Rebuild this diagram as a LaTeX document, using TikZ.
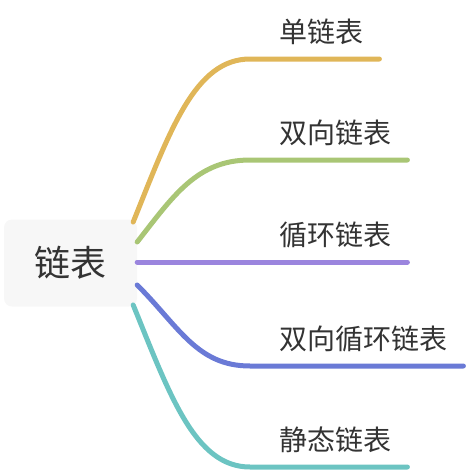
\documentclass[tikz,border=0pt]{standalone}
\usepackage{fontspec}
\newfontfamily\cjk{Noto Sans CJK SC}
\usepackage{tikz}
\usetikzlibrary{calc}
\definecolor{ink}{HTML}{333333}
\definecolor{rootbg}{HTML}{F7F7F7}
\definecolor{yel}{HTML}{E0B658}
\definecolor{grn}{HTML}{A9C675}
\definecolor{pur}{HTML}{9B85DE}
\definecolor{blu}{HTML}{6A7AD6}
\definecolor{tea}{HTML}{6CC4C2}
\tikzset{
  root/.style={fill=rootbg, rounded corners=8pt, minimum width=133pt, minimum height=87pt, inner sep=0pt, text=ink, font=\cjk\fontsize{36}{40}\selectfont},
  leaf/.style={anchor=west, inner xsep=16pt, inner ysep=0pt, text=ink, font=\cjk\fontsize{28}{32}\selectfont},
  arm/.style={line width=5pt, line cap=round},
}
\begin{document}
\begin{tikzpicture}[x=1pt,y=-1pt]
  \useasboundingbox (0,0) rectangle (466,472);

  \node[root] (root) at (70.5,263) {链表};

  \coordinate (e1) at (250,59);
  \coordinate (e2) at (250,160);
  \coordinate (e3) at (250,262);
  \coordinate (e4) at (250,366);
  \coordinate (e5) at (250,467);

  \node[leaf] (l1) at (263,32) {单链表};
  \node[leaf] (l2) at (263,133) {双向链表};
  \node[leaf] (l3) at (263,235) {循环链表};
  \node[leaf] (l4) at (263,339) {双向循环链表};
  \node[leaf] (l5) at (263,440) {静态链表};

  \draw[arm, yel] ($(root.east)+(-4,-41)$) .. controls +(37,-92) and +(-55,0) .. (e1) -- (e1 -| l1.east);
  \draw[arm, grn] ($(root.east)+(0,-21)$) .. controls +(36,-46) and +(-53,0) .. (e2) -- (e2 -| l2.east);
  \draw[arm, pur] ($(root.east)+(0,-1)$) -- (e3) -- (e3 -| l3.east);
  \draw[arm, blu] ($(root.east)+(0,22)$) .. controls +(42,42) and +(-53,0) .. (e4) -- (e4 -| l4.east);
  \draw[arm, tea] ($(root.east)+(-4,42)$) .. controls +(37,91) and +(-55,0) .. (e5) -- (e5 -| l5.east);
\end{tikzpicture}
\end{document}
